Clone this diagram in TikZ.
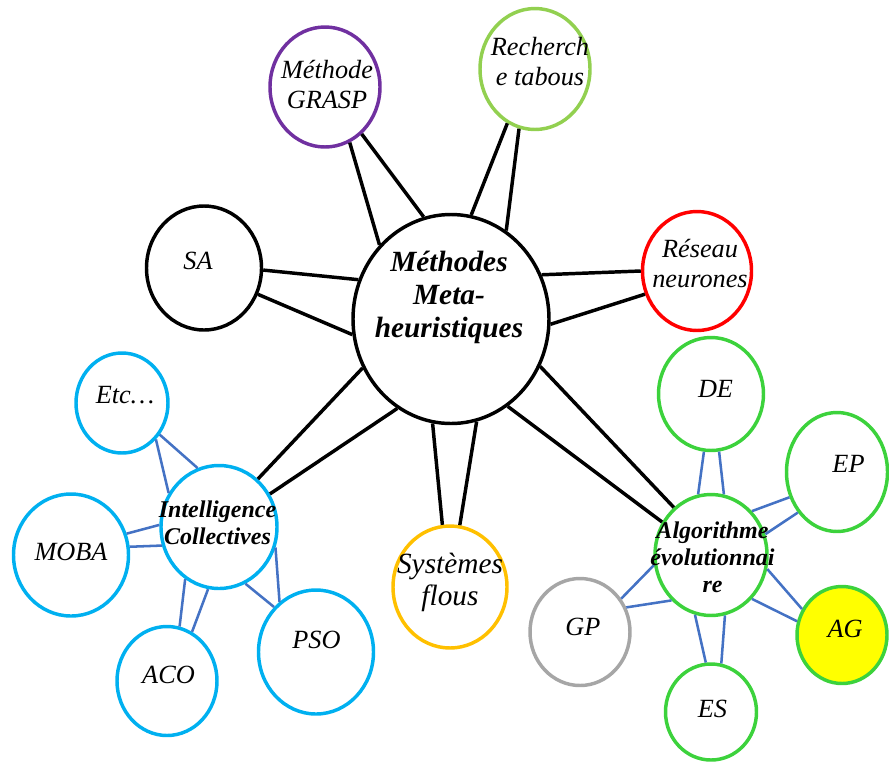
\documentclass[tikz,border=0pt]{standalone}
\usepackage{fontspec}
\setmainfont{Liberation Serif}
\usetikzlibrary{shapes.geometric}
\definecolor{cpurple}{HTML}{7030A0}
\definecolor{clgreen}{HTML}{92D050}
\definecolor{cred}{HTML}{FF0000}
\definecolor{cblue}{HTML}{00B0F0}
\definecolor{cgreen}{RGB}{60,210,60}
\definecolor{cgray}{HTML}{A6A6A6}
\definecolor{corange}{HTML}{FFC000}
\definecolor{clink}{HTML}{4472C4}
\definecolor{cyellow}{HTML}{FFFF00}
\newcommand{\mlines}[1]{\begin{tabular}[t]{@{}c@{}}#1\end{tabular}}
\tikzset{
  bub/.style={ellipse, draw, line width=2.6pt, inner sep=0pt, fill=white},
  blink/.style={draw=black, line width=2.6pt},
  ulink/.style={draw=clink, line width=1.9pt},
  lbl/.style={anchor=base, inner sep=0pt, font=\fontsize{19.7}{23}\selectfont\itshape},
  bigl/.style={anchor=base, inner sep=0pt, font=\fontsize{22}{24.75}\selectfont\bfseries\itshape},
  midl/.style={anchor=base, inner sep=0pt, font=\fontsize{18}{20.6}\selectfont\bfseries\itshape},
}
\begin{document}
\begin{tikzpicture}[x=0.75pt,y=-0.75pt]
\useasboundingbox (0,0) rectangle (889,765);
% ellipses
\node[bub, minimum width=147pt, minimum height=156.75pt] (meta) at (451,319) {};
\node[bub, minimum width=86.25pt, minimum height=93pt] (sa) at (204,268) {};
\node[bub, draw=cpurple, minimum width=82.5pt, minimum height=90pt] (grasp) at (325,87) {};
\node[bub, draw=clgreen, minimum width=82.5pt, minimum height=90.75pt] (tabou) at (535,69) {};
\node[bub, draw=cred, minimum width=81.75pt, minimum height=89.25pt] (reseau) at (697,271) {};
\node[bub, draw=cblue, minimum width=87pt, minimum height=92.25pt] (intel) at (219,527) {};
\node[bub, draw=cblue, minimum width=69pt, minimum height=75pt] (etc) at (122,403) {};
\node[bub, draw=cblue, minimum width=86.25pt, minimum height=91.5pt] (moba) at (71,555) {};
\node[bub, draw=cblue, minimum width=75pt, minimum height=81.75pt] (aco) at (167,681) {};
\node[bub, draw=cblue, minimum width=86.25pt, minimum height=93pt] (pso) at (316,652) {};
\node[bub, draw=corange, minimum width=85.5pt, minimum height=91.5pt] (flous) at (450,587) {};
\node[bub, draw=cgreen, minimum width=84pt, minimum height=90.75pt] (algo) at (711,555) {};
\node[bub, draw=cgreen, minimum width=78.75pt, minimum height=84.75pt] (de) at (711,394) {};
\node[bub, draw=cgreen, minimum width=75.75pt, minimum height=89.25pt] (ep) at (837,472) {};
\node[bub, draw=cgray, minimum width=75pt, minimum height=80.25pt] (gp) at (580,632) {};
\node[bub, draw=cgreen, fill=cyellow, minimum width=67.5pt, minimum height=72.75pt] (ag) at (842,635) {};
\node[bub, draw=cgreen, minimum width=68.25pt, minimum height=72pt] (es) at (711,712) {};
% black connectors
\draw[blink] (meta.134) -- (grasp.-66);
\draw[blink] (meta.105) -- (grasp.-52);
\draw[blink] (meta.79) -- (tabou.243);
\draw[blink] (meta.58) -- (tabou.255);
\draw[blink] (meta.157) -- (sa.-2);
\draw[blink] (meta.189) -- (sa.-26);
\draw[blink] (meta.26) -- (reseau.180);
\draw[blink] (meta.-3) -- (reseau.204);
\draw[blink] (meta.209) -- (intel.51);
\draw[blink] (meta.239) -- (intel.33);
\draw[blink] (meta.-28) -- (algo.128);
\draw[blink] (meta.-57) -- (algo.146);
\draw[blink] (meta.260) -- (flous.97);
\draw[blink] (meta.284) -- (flous.81);
% blue connectors
\draw[ulink] (etc.-47) -- (intel.146);
\draw[ulink] (etc.-40) -- (intel.110);
\draw[ulink] (moba.21) -- (intel.178);
\draw[ulink] (moba.8) -- (intel.198);
\draw[ulink] (aco.77) -- (intel.237);
\draw[ulink] (aco.63) -- (intel.260);
\draw[ulink] (pso.133) -- (intel.-65);
\draw[ulink] (pso.126) -- (intel.-20);
\draw[ulink] (de.263) -- (algo.102);
\draw[ulink] (de.-82) -- (algo.78);
\draw[ulink] (ep.208) -- (algo.47);
\draw[ulink] (ep.226) -- (algo.21);
\draw[ulink] (gp.39) -- (algo.190);
\draw[ulink] (gp.28) -- (algo.229);
\draw[ulink] (ag.147) -- (algo.-14);
\draw[ulink] (ag.163) -- (algo.-47);
\draw[ulink] (es.96) -- (algo.255);
\draw[ulink] (es.78) -- (algo.-77);
% texts
\node[bigl] (meta-t) at (449,271) {\mlines{Méthodes\\Meta-\\heuristiques}};
\node[lbl] (sa-t) at (198,269) {SA};
\node[lbl] (grasp-t) at (327,78) {\mlines{Méthode\\GRASP}};
\node[lbl] (tabou-t) at (540,55) {\mlines{Recherch\\e tabous}};
\node[lbl] (reseau-t) at (700,257) {\mlines{Réseau\\neurones}};
\node[lbl, font=\fontsize{22}{24}\selectfont\itshape] (flous-t) at (450,573) {\mlines{Systèmes\\flous}};
\node[midl] (intel-t) at (217.5,517) {\mlines{Intelligence\\Collectives}};
\node[lbl] (etc-t) at (125,403) {Etc…};
\node[lbl] (moba-t) at (71,560) {MOBA};
\node[lbl] (aco-t) at (168.5,683) {ACO};
\node[lbl] (pso-t) at (316.5,648) {PSO};
\node[midl] (algo-t) at (712.5,538) {\mlines{Algorithme\\évolutionnai\\re}};
\node[lbl] (de-t) at (715.5,397) {DE};
\node[lbl] (ep-t) at (848.5,472) {EP};
\node[lbl] (gp-t) at (583,635) {GP};
\node[lbl] (ag-t) at (845,637) {AG};
\node[lbl] (es-t) at (712.5,717) {ES};
\end{tikzpicture}
\end{document}
